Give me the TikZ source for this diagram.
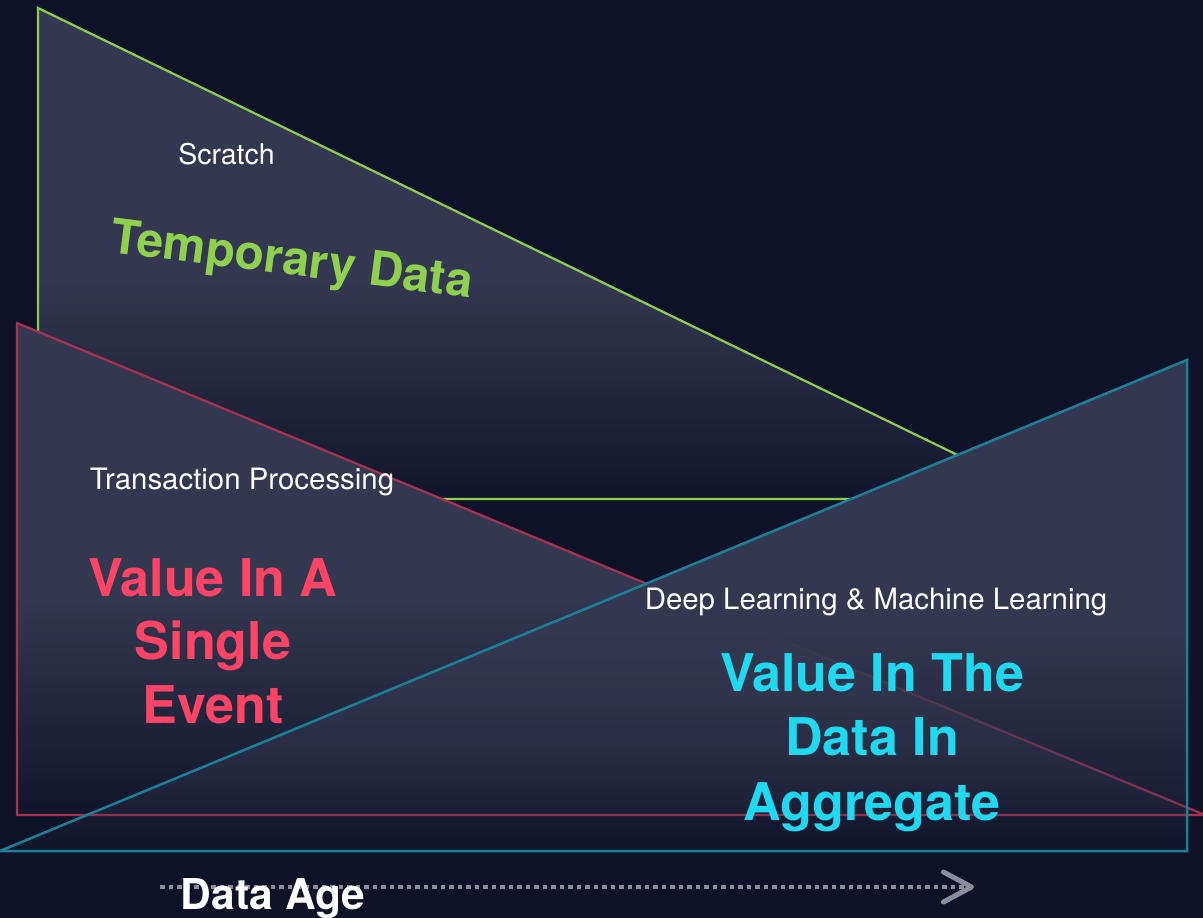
\documentclass[tikz,border=0pt]{standalone}
\usepackage{fontspec}
\setmainfont{TeX Gyre Heros}
\usetikzlibrary{arrows.meta,fadings}

\definecolor{bgnavy}{HTML}{0E1229}
\definecolor{slate}{HTML}{333850}
\definecolor{limeline}{HTML}{8CCF4D}
\definecolor{limetext}{HTML}{8FD14F}
\definecolor{roseline}{HTML}{A8314F}
\definecolor{rosetext}{HTML}{FF4466}
\definecolor{tealline}{HTML}{1B7F98}
\definecolor{cyantext}{HTML}{1FD9F0}
\definecolor{axisgray}{HTML}{8C8D9B}

% opaque in the upper part, fading out towards the bottom edge
\pgfdeclareverticalshading{slatemask}{100bp}{%
  color(0bp)=(pgftransparent!90); color(25bp)=(pgftransparent!90);
  color(47bp)=(pgftransparent!0); color(100bp)=(pgftransparent!0)}
\pgfdeclarefading{slatefade}{\pgfuseshading{slatemask}}

\tikzset{
  panel/.style={fill=slate, path fading=slatefade},
  edge/.style={line width=2.2pt, line join=miter},
  caption/.style={text=white, font=\fontsize{29.4}{31}\selectfont, inner sep=0pt, anchor=base},
  headline/.style={font=\bfseries\fontsize{52}{63.5}\selectfont, align=center, inner sep=0pt, anchor=base},
  agearrow/.style={draw=axisgray, line width=3.5pt, dash pattern=on 4.5pt off 4pt,
    -{Straight Barb[length=28pt,width=30pt,line width=5pt,round]}}
}

\begin{document}
\begin{tikzpicture}[x=1pt,y=-1pt]
  \fill[bgnavy] (0,0) rectangle (1203,918);
  \useasboundingbox (0,0) rectangle (1203,918);

  % corner points of the three panels
  \coordinate (gTop) at (38,8);
  \coordinate (gTip) at (1048,499);
  \coordinate (gBot) at (38,499);
  \coordinate (rTop) at (17,323);
  \coordinate (rTip) at (1205,815);
  \coordinate (rBot) at (17,815);
  \coordinate (tTip) at (0,851);
  \coordinate (tTop) at (1187,360);
  \coordinate (tBot) at (1187,851);

  % temporary data panel
  \fill[panel] (gTop) -- (gTip) -- (gBot) -- cycle;
  \draw[edge, limeline] (gTop) -- (gTip) -- (gBot) -- cycle;

  % single event panel
  \fill[panel] (rTop) -- (rTip) -- (rBot) -- cycle;
  \draw[edge, roseline] (rTop) -- (rTip) -- (rBot) -- cycle;

  % aggregate panel
  \fill[panel] (tTip) -- (tTop) -- (tBot) -- cycle;
  \draw[edge, tealline, line width=2.5pt] (tTip) -- (tTop) -- (tBot) -- cycle;

  % labels (base anchor of a multi-line node sits on its last line)
  \node[caption, font=\fontsize{28.5}{30}\selectfont] (scratch) at (226.5,164) {Scratch};
  \node[font=\bfseries\fontsize{48}{50}\selectfont, text=limetext, inner sep=0pt,
        anchor=base, rotate=-7.2] (temp) at (290,275) {Temporary Data};

  \node[caption] (txn) at (242,489) {Transaction Processing};
  \node[headline, text=rosetext] (single) at (213,723) {Value In A\\Single\\Event};

  \node[caption] (dl) at (876,609) {Deep Learning \& Machine Learning};
  \node[headline, text=cyantext, font=\bfseries\fontsize{52}{64.5}\selectfont] (aggr) at (872,820)
    {Value In The\\Data In\\Aggregate};

  % data age axis
  \coordinate (axisL) at (160,887);
  \coordinate (axisR) at (974,887);
  \draw[agearrow] (axisL) -- (axisR);
  \node[text=white, font=\bfseries\fontsize{42.5}{44}\selectfont, inner sep=0pt, anchor=base]
    (age) at (273,909) {Data Age};
\end{tikzpicture}
\end{document}
